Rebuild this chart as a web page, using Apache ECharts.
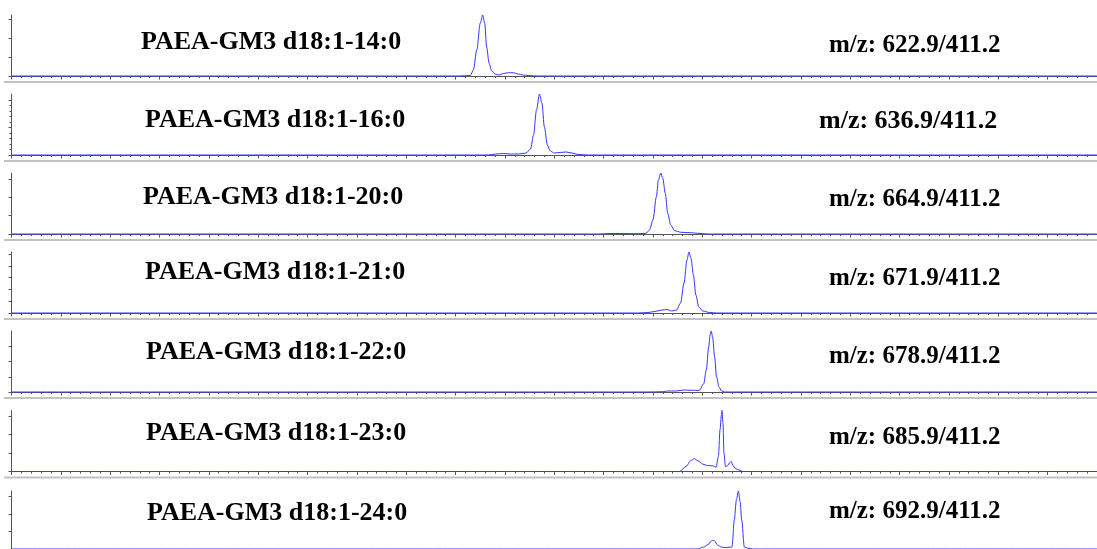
<!DOCTYPE html>
<html>
<head>
<meta charset="utf-8">
<title>PAEA-GM3 MRM chromatograms</title>
<script src="https://cdn.jsdelivr.net/npm/echarts@6/dist/echarts.min.js"></script>
<style>
  html, body { margin: 0; padding: 0; background: #ffffff; }
  #chart { width: 1097px; height: 549px; }
</style>
</head>
<body>
<div id="chart"></div>
<script>
// Species names and MRM transitions, one per panel (top to bottom)
const species = [
  'PAEA-GM3 d18:1-14:0',
  'PAEA-GM3 d18:1-16:0',
  'PAEA-GM3 d18:1-20:0',
  'PAEA-GM3 d18:1-21:0',
  'PAEA-GM3 d18:1-22:0',
  'PAEA-GM3 d18:1-23:0',
  'PAEA-GM3 d18:1-24:0'
];
const transitions = [
  'm/z: 622.9/411.2',
  'm/z: 636.9/411.2',
  'm/z: 664.9/411.2',
  'm/z: 671.9/411.2',
  'm/z: 678.9/411.2',
  'm/z: 685.9/411.2',
  'm/z: 692.9/411.2'
];

// Retention-time axis (min)
const rtMin = 0;
const rtMax = 22;
const rtMajorStep = 1;

// Extracted ion chromatograms: [retention time (min), intensity (cps)]
const trace14 = [
  [0, 0], [9.06, 0], [9.30, 50], [9.36, 640], [9.43, 2770], [9.50, 5620], [9.55, 6500],
  [9.59, 5620], [9.63, 3090], [9.68, 1350], [9.73, 570], [9.80, 210], [9.87, 110],
  [9.97, 270], [10.07, 350], [10.17, 350], [10.27, 210], [10.37, 100], [10.47, 50],
  [10.68, 0], [22, 0]
];
const trace16 = [
  [0, 0], [9.67, 0], [9.81, 180], [9.97, 270], [10.11, 180], [10.27, 180], [10.43, 360],
  [10.52, 1090], [10.58, 3640], [10.64, 8190], [10.70, 11100], [10.75, 9460], [10.80, 5100],
  [10.86, 1820], [10.92, 730], [11.00, 360], [11.12, 460], [11.24, 550], [11.36, 360],
  [11.48, 90], [11.69, 0], [22, 0]
];
const trace20 = [
  [0, 0], [11.89, 0], [12.15, 80], [12.35, 80], [12.70, 50], [12.86, 110], [12.93, 660],
  [13.00, 2300], [13.07, 6110], [13.11, 8850], [13.16, 10000], [13.20, 9130], [13.25, 6670],
  [13.30, 3390], [13.36, 1480], [13.44, 540], [13.57, 280], [13.77, 210], [13.91, 110],
  [14.11, 0], [22, 0]
];
const trace21 = [
  [0, 0], [12.70, 0], [12.90, 40], [13.04, 130], [13.18, 250], [13.28, 300], [13.38, 170],
  [13.48, 250], [13.56, 850], [13.63, 2540], [13.69, 4490], [13.73, 5170], [13.77, 4660],
  [13.82, 3220], [13.87, 1530], [13.93, 510], [14.01, 170], [14.15, 40], [14.31, 0], [22, 0]
];
const trace22 = [
  [0, 0], [12.90, 0], [13.20, 40], [13.30, 130], [13.46, 130], [13.64, 260], [13.77, 220],
  [13.87, 220], [13.94, 220], [14.03, 1090], [14.08, 2850], [14.13, 5900], [14.16, 7570],
  [14.18, 8000], [14.21, 7210], [14.25, 4590], [14.29, 1970], [14.34, 660], [14.39, 130],
  [14.45, 0], [22, 0]
];
const trace23 = [
  [0, 0], [13.30, 0], [13.54, 0], [13.67, 270], [13.77, 600], [13.84, 690], [13.91, 580],
  [14.01, 400], [14.11, 320], [14.21, 310], [14.28, 230], [14.327, 810], [14.360, 2260],
  [14.388, 3070], [14.400, 3300], [14.420, 2610], [14.440, 990], [14.469, 270], [14.51, 310],
  [14.56, 490], [14.59, 540], [14.62, 320], [14.68, 150], [14.75, 70], [14.82, 0], [22, 0]
];
const trace24 = [
  [0, 0], [13.91, 0], [14.03, 110], [14.125, 270], [14.17, 430], [14.21, 500], [14.25, 460],
  [14.31, 220], [14.39, 110], [14.48, 80], [14.56, 110], [14.602, 110], [14.650, 1680],
  [14.691, 2810], [14.731, 3330], [14.768, 2710], [14.798, 1680], [14.853, 110], [14.92, 50],
  [15.02, 0], [22, 0]
];
const traces = [trace14, trace16, trace20, trace21, trace22, trace23, trace24];

// Intensity axis top (cps) and tick values for each panel
const intensityMax = [6500, 11100, 10000, 5170, 8000, 3300, 3330];
const intensityTicks = [
  [0, 2000, 4000, 6000],
  [0, 5000, 10000],
  [0, 3000, 6000, 9000],
  [0, 1000, 2000, 3000, 4000, 5000],
  [0, 2000, 4000, 6000],
  [0, 1000, 2000, 3000],
  [0, 1000, 2000, 3000]
];
const intensityMinorTicks = [
  [],
  [1000, 2000, 3000, 4000, 6000, 7000, 8000, 9000],
  [], [], [], [], []
];

// ---- layout ----
const panelCount = species.length;
const baselines = [76, 155, 234, 313, 392, 471.5, 552];
const plotHeight = 61;
const plotLeft = 11.5;
const pxPerMinute = 49.5;
const titleX = [141, 145, 143, 145, 146, 146, 147];
const titleDy = [-34, -35, -37, -41, -40, -38, -39];
const mzX = [829, 819, 829, 829, 829, 829, 829];
const mzDy = [-30, -34, -34, -34, -35, -34, -40];
const mzSize = [25, 26, 25, 25, 25, 25, 25];

const axisGray = '#555555';
const traceBlue = '#3535ff';
const textFont = '"Liberation Serif", "Times New Roman", serif';

const grids = [], xAxes = [], yAxes = [], series = [], graphics = [];

for (let i = 0; i < panelCount; i++) {
  const base = baselines[i];
  grids.push({ left: plotLeft, top: base - plotHeight, width: (rtMax - rtMin) * pxPerMinute, height: plotHeight });

  xAxes.push({
    gridIndex: i, type: 'value', min: rtMin, max: rtMax, interval: rtMajorStep,
    axisLine: { show: true, onZero: false, lineStyle: { color: axisGray, width: 1 } },
    axisTick: { show: true, length: 3.5, lineStyle: { color: axisGray, width: 1 } },
    minorTick: { show: true, splitNumber: 5, length: 2, lineStyle: { color: axisGray, width: 1 } },
    axisLabel: { show: false }, splitLine: { show: false }, minorSplitLine: { show: false }
  });

  const yIndex = yAxes.length;
  yAxes.push({
    gridIndex: i, type: 'value', min: 0, max: intensityMax[i], position: 'left',
    axisLine: { show: true, onZero: false, lineStyle: { color: axisGray, width: 1 } },
    axisTick: { show: true, length: 3, customValues: intensityTicks[i], lineStyle: { color: axisGray, width: 1 } },
    axisLabel: { show: false }, splitLine: { show: false }
  });
  if (intensityMinorTicks[i].length) {
    yAxes.push({
      gridIndex: i, type: 'value', min: 0, max: intensityMax[i], position: 'left',
      axisLine: { show: false },
      axisTick: { show: true, length: 2, customValues: intensityMinorTicks[i], lineStyle: { color: axisGray, width: 1 } },
      axisLabel: { show: false }, splitLine: { show: false }
    });
  }

  series.push({
    type: 'line', xAxisIndex: i, yAxisIndex: yIndex, data: traces[i],
    showSymbol: false, symbol: 'none', smooth: 0.3, smoothMonotone: 'x',
    lineStyle: { color: traceBlue, width: 1 }, clip: false, animation: false, silent: true
  });

  // panel separator (none below the last panel, it falls outside the canvas)
  if (i < panelCount - 1) {
    graphics.push({
      type: 'line', silent: true,
      shape: { x1: 4, y1: base + 6, x2: 1097, y2: base + 6 },
      style: { stroke: '#c2c2c2', lineWidth: 2 }
    });
  }
  graphics.push({
    type: 'text', silent: true, x: titleX[i], y: base + titleDy[i],
    style: { text: species[i], font: 'bold 26px ' + textFont, fill: '#000', verticalAlign: 'middle', align: 'left' }
  });
  graphics.push({
    type: 'text', silent: true, x: mzX[i], y: base + mzDy[i],
    style: { text: transitions[i], font: 'bold ' + mzSize[i] + 'px ' + textFont, fill: '#000', verticalAlign: 'middle', align: 'left' }
  });
}

const chart = echarts.init(document.getElementById('chart'), null, { renderer: 'canvas' });
chart.setOption({
  animation: false,
  backgroundColor: '#ffffff',
  grid: grids, xAxis: xAxes, yAxis: yAxes, series: series, graphic: graphics
});
</script>
</body>
</html>
